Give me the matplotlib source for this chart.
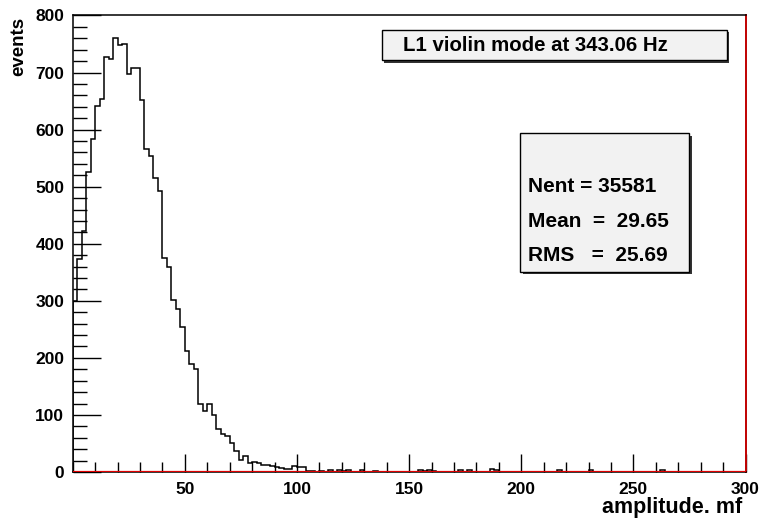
import matplotlib
matplotlib.use("Agg")
import matplotlib.pyplot as plt
from matplotlib.patches import Rectangle
from matplotlib.ticker import MultipleLocator
import numpy as np

plt.rcParams["font.family"] = ["Liberation Sans", "DejaVu Sans"]
plt.rcParams["font.weight"] = "bold"

# histogram: 150 bins of width 2 over 0..300
bin_width = 2
x_max = 300

# counts of the first bins (amplitude 0..112)
peak_counts = [300, 374, 423, 525, 583, 642, 653, 728, 724, 761,
               748, 750, 697, 708, 708, 652, 566, 554, 515, 493,
               375, 360, 301, 286, 254, 212, 189, 180, 120, 107,
               120, 100, 76, 67, 63, 50, 36, 21, 28, 16,
               18, 16, 12, 12, 10, 8, 7, 6, 5, 10,
               8, 8, 2, 1, 0, 2]

# sparse tail: bin index -> count
tail_bins = [57, 59, 60, 61, 64, 67, 77, 78, 79, 80, 86, 88, 93, 94, 108, 115, 131]
tail_counts = [4, 3, 2, 4, 4, 2, 3, 2, 3, 2, 4, 3, 5, 3, 3, 3, 4]

title_text = "L1 violin mode at 343.06 Hz"
stats_lines = ["Nent = 35581", "Mean  =  29.65", "RMS   =  25.69"]

edges = np.arange(0, x_max + bin_width, bin_width)
counts = np.zeros(len(edges) - 1)
counts[:len(peak_counts)] = peak_counts
counts[tail_bins] = tail_counts

W, H = 762, 522
fig = plt.figure(figsize=(W / 100, H / 100), dpi=100)
ax = fig.add_axes([72.7 / W, 1 - 472 / H, (745.5 - 72.7) / W, (472 - 15.5) / H])

ax.stairs(counts, edges, color="black", linewidth=1.1)
ax.axhline(0.8, color="#e00000", linewidth=1.6, zorder=3)

ax.set_xlim(0, x_max)
ax.set_ylim(0, 800)
ax.xaxis.set_major_locator(MultipleLocator(50))
ax.xaxis.set_minor_locator(MultipleLocator(10))
ax.yaxis.set_major_locator(MultipleLocator(100))
ax.yaxis.set_minor_locator(MultipleLocator(20))
ax.tick_params(axis="x", which="major", direction="in", length=13, width=1, labelsize=12.5, pad=7)
ax.tick_params(axis="x", which="minor", direction="in", length=7, width=1)
ax.tick_params(axis="y", which="major", direction="in", length=20, width=1, labelsize=12.5, pad=6)
ax.tick_params(axis="y", which="minor", direction="in", length=10, width=1)
ax.set_xticks([50, 100, 150, 200, 250, 300])
for lab in ax.get_xticklabels() + ax.get_yticklabels():
    lab.set_fontweight("bold")
ax.spines["right"].set_color("#c00000")
ax.spines["right"].set_linewidth(1.4)
for s in ["left", "bottom", "top"]:
    ax.spines[s].set_linewidth(1.1)

fig.text(19 / W, 1 - 17 / H, "events", rotation=90, ha="center", va="top",
         fontsize=13.5, fontweight="bold")
fig.text(742 / W, 1 - 508 / H, "amplitude. mf", ha="right", va="center",
         fontsize=15.5, fontweight="bold")


def box(x0, y0, x1, y1):
    # grey box with a dark shadow, coordinates in pixels from top-left
    sh = Rectangle(((x0 + 2.5) / W, 1 - (y1 + 2.5) / H), (x1 - x0) / W, (y1 - y0) / H,
                   transform=fig.transFigure, facecolor="#333333", edgecolor="none", zorder=5)
    fg = Rectangle((x0 / W, 1 - y1 / H), (x1 - x0) / W, (y1 - y0) / H,
                   transform=fig.transFigure, facecolor="#f2f2f2", edgecolor="black",
                   linewidth=1, zorder=6)
    fig.add_artist(sh)
    fig.add_artist(fg)


box(381.7, 30, 726.7, 60)
fig.text(403 / W, 1 - 45 / H, title_text, ha="left", va="center", fontsize=14.7,
         fontweight="bold", zorder=7)

box(520, 133.3, 689.3, 271.7)
for i, line in enumerate(stats_lines):
    fig.text(528 / W, 1 - (187 + 34.5 * i) / H, line, ha="left", va="center",
             fontsize=15, fontweight="bold", zorder=7)

fig.savefig("out.png", dpi=100)
